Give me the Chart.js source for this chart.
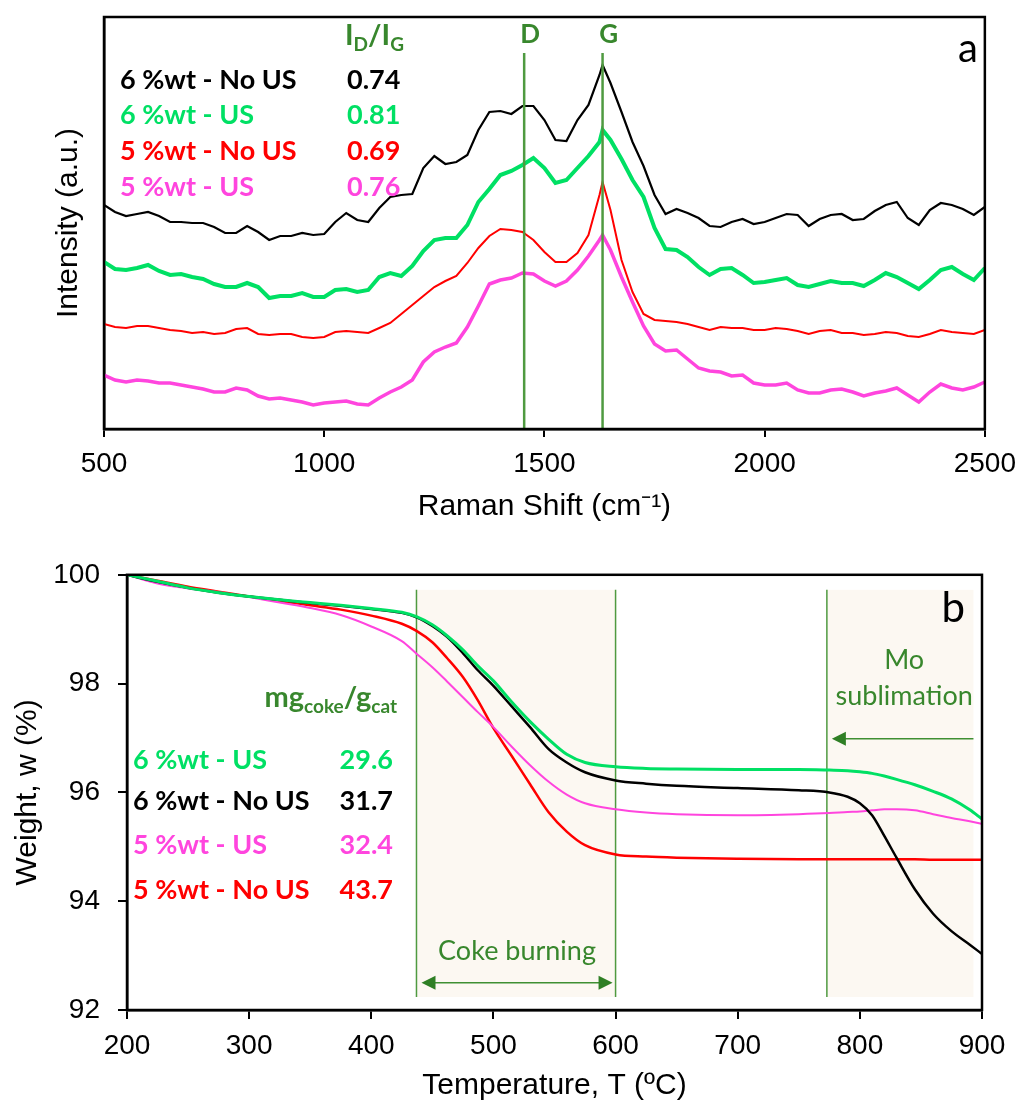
<!DOCTYPE html>
<html lang="en">
<head>
<meta charset="UTF-8">
<title>Raman spectra and TGA of spent catalysts</title>
<script src="https://cdn.jsdelivr.net/npm/chart.js"></script>
<style>
  body { margin: 0; background: #fff; }
  .wrap { position: relative; width: 1026px; height: 1104px; }
  canvas { position: absolute; left: 0; }
  #raman { top: 0; }
  #tga { top: 540px; }
</style>
</head>
<body>
<div class="wrap">
  <canvas id="raman" width="1026" height="540"></canvas>
  <canvas id="tga" width="1026" height="564"></canvas>
</div>
<script>
// ---- panel a: Raman spectra (stacked, arbitrary units) ----
const ramanShift = [500,525,550,575,600,625,650,675,700,725,750,775,800,825,850,875,900,925,950,975,
  1000,1025,1050,1075,1100,1125,1150,1175,1200,1225,1250,1275,1300,1325,1350,1375,1400,1425,1450,1475,
  1500,1525,1550,1575,1600,1625,1632,1650,1675,1700,1725,1750,1775,1800,1825,1850,1875,1900,1925,1950,
  1975,2000,2025,2050,2075,2100,2125,2150,2175,2200,2225,2250,2275,2300,2325,2350,2375,2400,2425,2450,
  2475,2500];
const ramanNoUS6 = [224,217,213,215,217,213,207,207,206,206,202,196,196,203,197,189,193,193,196,194,
  195,207,216,209,207,221,232,234,235,261,273,265,267,274,299,317,318,315,323,323,
  309,289,288,309,324,354,364,346,317,287,263,234,215,220,216,211,203,202,207,210,
  205,207,211,215,214,203,210,214,215,209,210,218,224,227,211,204,219,226,224,220,214,222];
const ramanUS6 = [167,160,159,161,164,158,154,155,152,150,145,142,142,146,142,131,133,133,136,132,
  132,139,140,137,139,152,156,153,163,178,189,191,191,204,227,240,254,258,264,271,
  261,246,249,261,273,287,299,289,270,249,232,201,180,179,172,162,154,160,161,154,
  146,147,149,151,144,142,145,148,146,146,143,149,156,152,146,140,149,159,162,155,149,161];
const ramanNoUS5 = [105,102,101,103,103,101,99,98,96,97,95,96,100,101,95,94,95,95,92,91,
  92,97,98,97,96,101,106,115,124,133,142,148,153,166,181,193,200,199,197,189,
  177,167,167,176,194,234,247,219,169,137,115,109,108,107,105,102,99,102,101,101,
  99,99,101,100,98,95,98,99,96,96,94,95,97,96,93,92,95,99,97,96,95,99];
const ramanUS5 = [54,49,47,49,48,46,46,44,42,40,37,37,41,39,33,30,31,29,27,24,
  26,27,28,25,24,31,37,42,49,67,77,82,86,102,123,145,149,151,156,155,
  148,143,148,159,173,189,194,179,152,127,103,85,78,79,70,61,58,57,53,54,
  46,44,44,46,39,36,36,39,40,37,33,36,38,41,34,27,37,45,41,39,42,47];
const ramanTicks = [500, 1000, 1500, 2000, 2500];
const bandD = 1454, bandG = 1632;
const ramanNames = ['6 %wt - No US', '6 %wt - US', '5 %wt - No US', '5 %wt - US'];
const ratioIDIG = ['0.74', '0.81', '0.69', '0.76'];

// ---- panel b: TGA weight loss ----
const tgaTemp = [200,225,250,275,300,325,350,375,400,425,437,450,462,475,487,500,515,530,545,560,
  575,600,625,650,700,750,775,790,800,810,820,830,845,860,875,890,900];
const tgaUS6 = [100,99.88,99.76,99.67,99.6,99.54,99.49,99.44,99.38,99.31,99.23,99.08,98.88,98.62,98.33,98.05,
  97.66,97.3,96.98,96.7,96.55,96.47,96.44,96.43,96.42,96.42,96.41,96.4,96.38,96.35,96.3,96.24,96.14,96.02,
  95.88,95.68,95.51];
const tgaNoUS6 = [100,99.87,99.76,99.67,99.6,99.54,99.48,99.43,99.37,99.3,99.22,99.06,98.86,98.56,98.25,97.96,
  97.58,97.2,96.8,96.55,96.37,96.22,96.16,96.12,96.08,96.04,96.0,95.92,95.8,95.58,95.2,94.8,94.22,93.77,
  93.45,93.2,93.03];
const tgaUS5 = [100,99.84,99.75,99.68,99.59,99.49,99.39,99.26,99.05,98.78,98.55,98.3,98.04,97.75,97.48,97.2,
  96.84,96.5,96.2,95.96,95.8,95.69,95.63,95.6,95.58,95.6,95.62,95.64,95.65,95.67,95.69,95.69,95.67,95.6,
  95.53,95.47,95.42];
const tgaNoUS5 = [100,99.89,99.78,99.69,99.6,99.52,99.44,99.36,99.25,99.1,98.97,98.76,98.47,98.12,97.7,97.18,
  96.67,96.15,95.64,95.28,95.03,94.86,94.82,94.8,94.78,94.77,94.77,94.77,94.77,94.77,94.77,94.77,94.77,94.76,
  94.76,94.76,94.76];
const cokeZone = [437, 600];   // coke burning range (ºC)
const moZone = [773, 893];     // Mo sublimation range (ºC)
const cokeNames = ['6 %wt - US', '6 %wt - No US', '5 %wt - US', '5 %wt - No US'];
const cokeContent = ['29.6', '31.7', '32.4', '43.7'];

// colours
const cBlack = '#000000', cGreen = '#00e064', cRed = '#ff0000', cPink = '#ff45de';
const noteGreen = '#38872d', lineGreen = '#4f9a40', shade = '#fcf8f2';
const axisFont = "'Liberation Sans', Arial, sans-serif";
const noteFont = "Lato, 'Noto Sans', sans-serif";

function pts(xs, ys) { return xs.map((x, i) => ({ x: x, y: ys[i] })); }

// text with sub-scripts, parts: [text, size, dy]
function richText(ctx, parts, x, y, align, weight) {
  let w = 0;
  parts.forEach(p => { ctx.font = `${weight} ${p[1]}px ${noteFont}`; w += ctx.measureText(p[0]).width; });
  let cx = align === 'right' ? x - w : x;
  ctx.textAlign = 'left';
  parts.forEach(p => {
    ctx.font = `${weight} ${p[1]}px ${noteFont}`;
    ctx.fillText(p[0], cx, y + (p[2] || 0));
    cx += ctx.measureText(p[0]).width;
  });
}

function arrowHead(ctx, x, y, dir) {
  ctx.beginPath();
  ctx.moveTo(x, y);
  ctx.lineTo(x - dir * 14, y - 7);
  ctx.lineTo(x - dir * 14, y + 7);
  ctx.closePath();
  ctx.fill();
}

function frame(chart) {
  const { ctx, chartArea: a } = chart;
  ctx.save();
  ctx.strokeStyle = '#000';
  ctx.lineWidth = 2.5;
  ctx.strokeRect(a.left, a.top, a.right - a.left, a.bottom - a.top);
  ctx.restore();
}

const ramanNotes = {
  id: 'ramanNotes',
  afterDatasetsDraw(chart) {
    const { ctx, chartArea: a, scales: { x } } = chart;
    ctx.save();
    ctx.strokeStyle = lineGreen;
    ctx.lineWidth = 2.5;
    ctx.fillStyle = noteGreen;
    ctx.font = `bold 26px ${noteFont}`;
    ctx.textAlign = 'center';
    [[bandD, 'D'], [bandG, 'G']].forEach(b => {
      const px = x.getPixelForValue(b[0]);
      ctx.beginPath();
      ctx.moveTo(px, a.top + 36);
      ctx.lineTo(px, a.bottom);
      ctx.stroke();
      ctx.fillText(b[1], px + 6, a.top + 26);
    });
    richText(ctx, [['I', 29], ['D', 19, 6], ['/I', 29], ['G', 19, 6]], a.left + 241, a.top + 28, 'left', 'bold');

    const cols = [cBlack, cGreen, cRed, cPink];
    const rows = [72, 107, 143, 179];
    ramanNames.forEach((n, i) => {
      ctx.fillStyle = cols[i];
      ctx.font = `bold 27px ${noteFont}`;
      ctx.textAlign = 'left';
      ctx.fillText(n, a.left + 16, a.top + rows[i]);
      ctx.fillText(ratioIDIG[i], a.left + 243, a.top + rows[i]);
    });
    ctx.fillStyle = '#000';
    ctx.font = `40px ${noteFont}`;
    ctx.textAlign = 'right';
    ctx.fillText('a', a.right - 7, a.top + 45);
    ctx.restore();
    frame(chart);
  }
};

const tgaNotes = {
  id: 'tgaNotes',
  beforeDatasetsDraw(chart) {
    const { ctx, chartArea: a, scales: { x } } = chart;
    const top = a.top + 15, bot = a.bottom - 13;
    ctx.save();
    ctx.fillStyle = shade;
    [cokeZone, moZone].forEach(z => {
      const x0 = x.getPixelForValue(z[0]), x1 = x.getPixelForValue(z[1]);
      ctx.fillRect(x0, top, x1 - x0, bot - top);
    });
    ctx.strokeStyle = lineGreen;
    ctx.lineWidth = 1.5;
    [cokeZone[0], cokeZone[1], moZone[0]].forEach(t => {
      const px = x.getPixelForValue(t);
      ctx.beginPath();
      ctx.moveTo(px, top);
      ctx.lineTo(px, bot);
      ctx.stroke();
    });
    ctx.restore();
  },
  afterDatasetsDraw(chart) {
    const { ctx, chartArea: a, scales: { x } } = chart;
    ctx.save();
    // coke burning arrow
    const c0 = x.getPixelForValue(cokeZone[0]) + 5, c1 = x.getPixelForValue(cokeZone[1]) - 3;
    const cy = a.top + 408;
    ctx.strokeStyle = '#3f8f33';
    ctx.fillStyle = '#2f7f25';
    ctx.lineWidth = 1.5;
    ctx.beginPath(); ctx.moveTo(c0 + 8, cy); ctx.lineTo(c1 - 8, cy); ctx.stroke();
    arrowHead(ctx, c0, cy, -1);
    arrowHead(ctx, c1, cy, 1);
    // Mo sublimation arrow
    const m0 = x.getPixelForValue(moZone[0]) + 5, m1 = x.getPixelForValue(moZone[1]);
    const my = a.top + 164;
    ctx.beginPath(); ctx.moveTo(m1, my); ctx.lineTo(m0 + 8, my); ctx.stroke();
    arrowHead(ctx, m0, my, -1);

    ctx.fillStyle = noteGreen;
    ctx.font = `27px ${noteFont}`;
    ctx.textAlign = 'center';
    ctx.fillText('Coke burning', (c0 + c1) / 2, a.top + 385);
    const mx = (x.getPixelForValue(moZone[0]) + m1) / 2 + 4;
    ctx.fillText('Mo', mx, a.top + 94);
    ctx.fillText('sublimation', mx, a.top + 130);

    richText(ctx, [['mg', 29], ['coke', 19, 6], ['/g', 29], ['cat', 19, 6]], a.left + 270, a.top + 132, 'right', 'bold');
    const cols = [cGreen, cBlack, cPink, cRed];
    const rows = [194, 235, 279, 324];
    cokeNames.forEach((n, i) => {
      ctx.fillStyle = cols[i];
      ctx.font = `bold 27px ${noteFont}`;
      ctx.textAlign = 'left';
      ctx.fillText(n, a.left + 6, a.top + rows[i]);
      ctx.textAlign = 'right';
      ctx.fillText(cokeContent[i], a.left + 266, a.top + rows[i]);
    });
    ctx.fillStyle = '#000';
    ctx.font = `42px ${noteFont}`;
    ctx.textAlign = 'right';
    ctx.fillText('b', a.right - 17, a.top + 47);
    ctx.restore();
    frame(chart);
  }
};

const tickFont = { family: axisFont, size: 28 };
const titleFont = { family: axisFont, size: 30 };

new Chart(document.getElementById('raman'), {
  type: 'line',
  data: {
    datasets: [
      { label: ramanNames[3], data: pts(ramanShift, ramanUS5), borderColor: cPink, borderWidth: 3.5 },
      { label: ramanNames[2], data: pts(ramanShift, ramanNoUS5), borderColor: cRed, borderWidth: 2 },
      { label: ramanNames[1], data: pts(ramanShift, ramanUS6), borderColor: cGreen, borderWidth: 4 },
      { label: ramanNames[0], data: pts(ramanShift, ramanNoUS6), borderColor: cBlack, borderWidth: 2.2 }
    ]
  },
  options: {
    responsive: false,
    animation: false,
    layout: { padding: { top: 17, right: 37, left: 0, bottom: 0 } },
    elements: { point: { radius: 0 }, line: { tension: 0 } },
    plugins: { legend: { display: false }, tooltip: { enabled: false } },
    scales: {
      x: {
        type: 'linear', min: 500, max: 2500,
        afterBuildTicks: s => { s.ticks = ramanTicks.map(v => ({ value: v })); },
        ticks: { font: tickFont, color: '#000', padding: 10, maxRotation: 0, callback: v => String(v) },
        grid: { drawOnChartArea: false, drawTicks: true, tickLength: 8, color: '#000', lineWidth: 2 },
        border: { color: '#000', width: 2.5 },
        title: { display: true, text: 'Raman Shift (cm⁻¹)', font: titleFont, color: '#000', padding: { top: 0, bottom: 15 } },
        afterFit: s => { s.height = 111; }
      },
      y: {
        min: 0, max: 412,
        ticks: { display: false },
        grid: { display: false },
        border: { color: '#000', width: 2.5 },
        title: { display: true, text: 'Intensity (a.u.)', font: titleFont, color: '#000', padding: { top: 51, bottom: 0 } },
        afterFit: s => { s.width = 104; }
      }
    }
  },
  plugins: [ramanNotes]
});

new Chart(document.getElementById('tga'), {
  type: 'line',
  data: {
    datasets: [
      { label: '6 %wt - US', data: pts(tgaTemp, tgaUS6), borderColor: cGreen, borderWidth: 3 },
      { label: '6 %wt - No US', data: pts(tgaTemp, tgaNoUS6), borderColor: cBlack, borderWidth: 2.5 },
      { label: '5 %wt - US', data: pts(tgaTemp, tgaUS5), borderColor: cPink, borderWidth: 2 },
      { label: '5 %wt - No US', data: pts(tgaTemp, tgaNoUS5), borderColor: cRed, borderWidth: 2.5 }
    ]
  },
  options: {
    responsive: false,
    animation: false,
    layout: { padding: { top: 33, right: 44, left: 0, bottom: 0 } },
    elements: { point: { radius: 0 }, line: { cubicInterpolationMode: 'monotone' } },
    plugins: { legend: { display: false }, tooltip: { enabled: false } },
    scales: {
      x: {
        type: 'linear', min: 200, max: 900,
        ticks: { stepSize: 100, font: tickFont, color: '#000', padding: 10, maxRotation: 0, callback: v => String(v) },
        grid: { drawOnChartArea: false, drawTicks: true, tickLength: 9, color: '#000', lineWidth: 2 },
        border: { color: '#000', width: 2.5 },
        title: { display: true, text: 'Temperature, T (ºC)', font: titleFont, color: '#000', padding: { top: 0, bottom: 0 } },
        afterFit: s => { s.height = 94; }
      },
      y: {
        min: 92, max: 100,
        ticks: { stepSize: 2, font: tickFont, color: '#000', padding: 18 },
        grid: { drawOnChartArea: false, drawTicks: true, tickLength: 9, color: '#000', lineWidth: 2 },
        border: { color: '#000', width: 2.5 },
        title: { display: true, text: 'Weight, w (%)', font: titleFont, color: '#000', padding: { top: 10, bottom: 0 } },
        afterFit: s => { s.width = 127; }
      }
    }
  },
  plugins: [tgaNotes]
});
</script>
</body>
</html>
